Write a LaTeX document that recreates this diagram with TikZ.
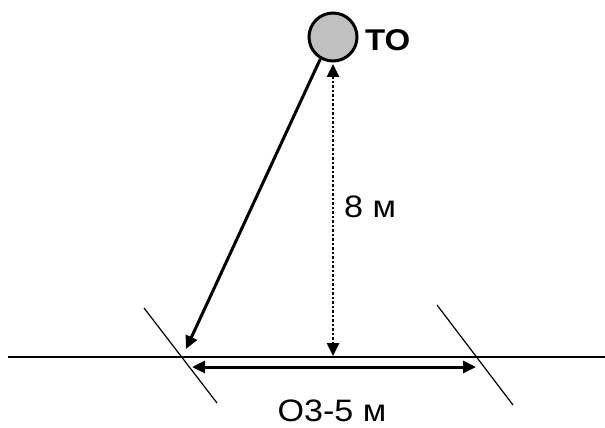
\documentclass[tikz,border=0pt]{standalone}
\usepackage{fontspec}
\setmainfont{Liberation Sans}
\newfontfamily\widefont[FakeStretch=1.1]{Liberation Sans}
\usetikzlibrary{arrows.meta}
\begin{document}
\begin{tikzpicture}[x=1pt,y=-1pt,
  tip/.style={-{Triangle[length=13pt,width=12pt]}},
  thin line/.style={line width=1.4pt},
  thick line/.style={line width=3pt},
  lbl/.style={font=\widefont\fontsize{31}{33}\selectfont, inner sep=0pt}]
\useasboundingbox (0,0) rectangle (605,428);
\node[circle, draw, line width=3pt, fill={rgb,255:red,192;green,192;blue,192}, minimum size=48pt, inner sep=0pt] (to) at (333,37) {};
\node[lbl, font=\widefont\fontsize{30}{32}\selectfont\bfseries, anchor=base west] (tolbl) at (365,51) {ТО};
% ground line
\coordinate (gl) at (8,357);
\coordinate (gr) at (605,357);
\draw[thin line] (gl) -- (gr);
% slanted lines
\coordinate (l1) at (144,308); \coordinate (l2) at (217,403);
\coordinate (r1) at (437,305); \coordinate (r2) at (513,405);
\draw[line width=1.2pt] (l1) -- (l2);
\draw[line width=1.2pt] (r1) -- (r2);
% main arrow
\coordinate (hit) at (186,349);
\draw[thick line, tip] (to.240) -- (hit);
% dotted height
\coordinate (top) at (333,64);
\coordinate (bot) at (333,356);
\draw[line width=2.5pt, dotted, {Triangle[length=13pt,width=12pt]}-{Triangle[length=13pt,width=12pt]}] (top) -- (bot);
\node[lbl, anchor=base west] (h) at (344,217) {8 м};
% width arrow
\coordinate (wl) at (192,367);
\coordinate (wr) at (476,367);
\draw[thick line, {Triangle[length=13pt,width=12pt]}-{Triangle[length=13pt,width=12pt]}] (wl) -- (wr);
\node[lbl, anchor=base] (w) at (332,421) {О3-5 м};
\end{tikzpicture}
\end{document}
